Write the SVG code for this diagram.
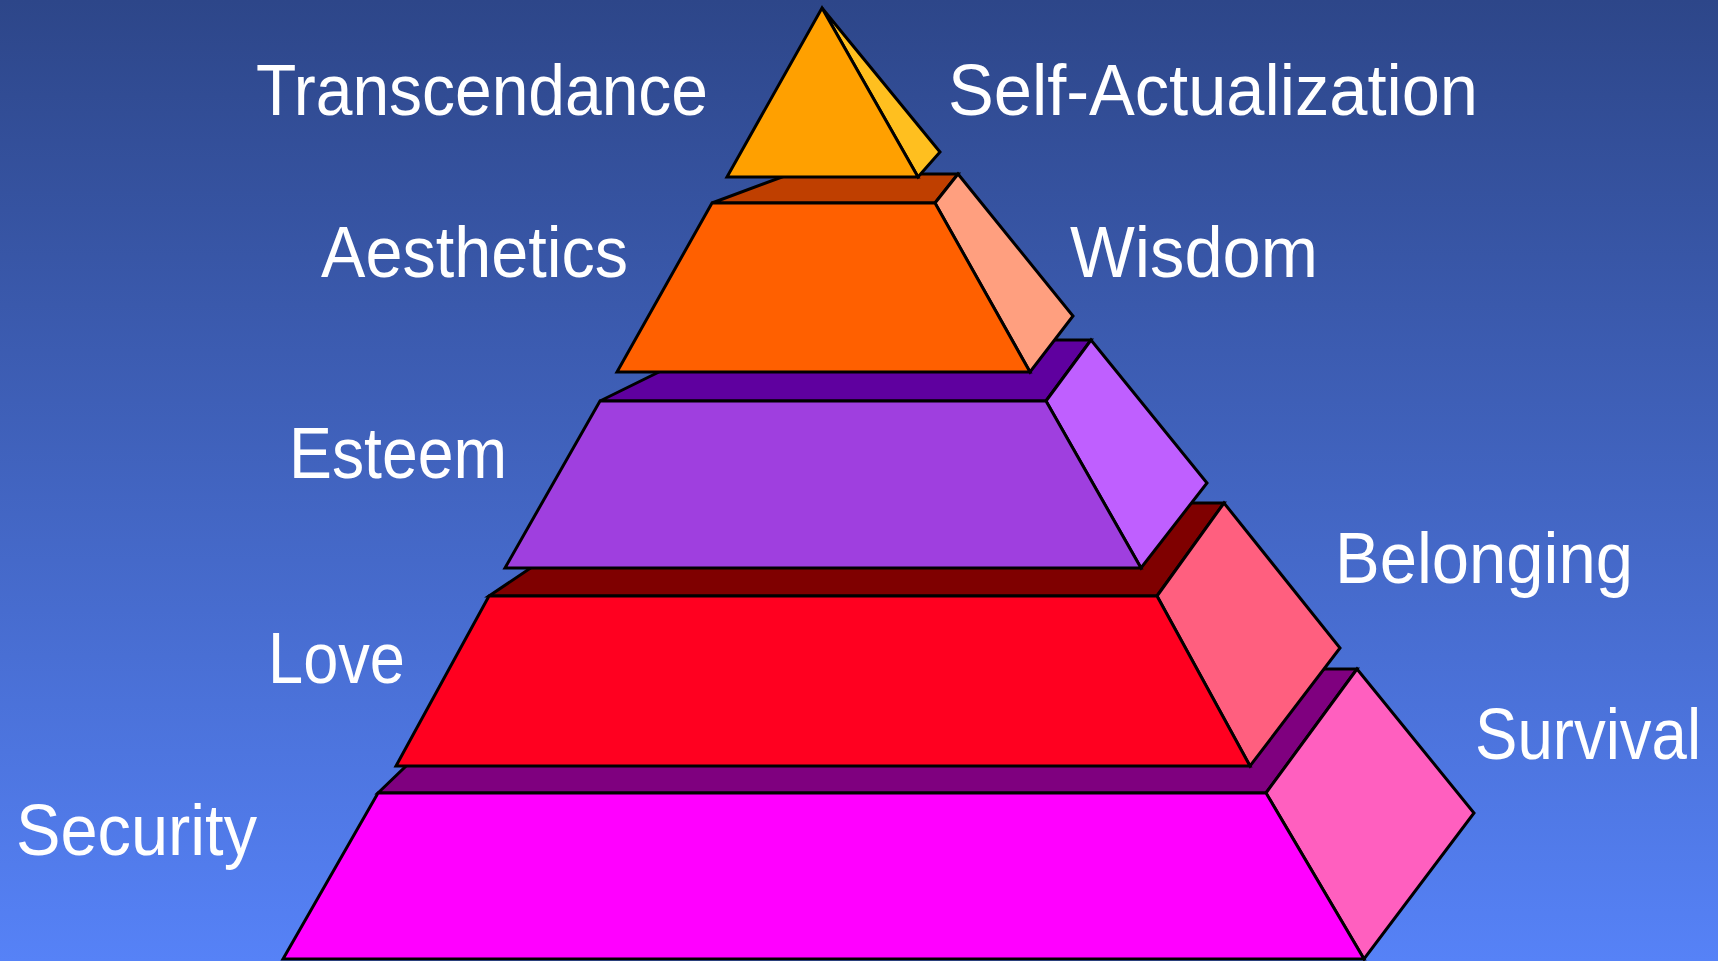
<svg xmlns="http://www.w3.org/2000/svg" width="1718" height="961" viewBox="0 0 1718 961">
<defs>
<linearGradient id="bg" x1="0" y1="0" x2="0" y2="1">
<stop offset="0" stop-color="#2D4689"/>
<stop offset="1" stop-color="#5682F7"/>
</linearGradient>
<style>
.e{stroke:#000;stroke-width:3;stroke-linejoin:miter}
.t{font-family:"Liberation Sans","Open Sans",sans-serif;font-size:72px;fill:#fff}
</style>
</defs>
<rect width="1718" height="961" fill="url(#bg)"/>
<g id="tier-security">
<polygon class="e" fill="#7F007F" points="378,793 507,669 1357,669 1266,793"/>
<polygon class="e" fill="#FF5FBF" points="1266,793 1357,669 1474,813 1364,959"/>
<polygon class="e" fill="#FF00FF" points="378,793 1266,793 1364,959 283,959"/>
</g>
<g id="tier-love">
<polygon class="e" fill="#7F0000" points="489,596 627,503 1224,503 1157,596"/>
<polygon class="e" fill="#FF5F7F" points="1157,596 1224,503 1340,648 1250,766"/>
<polygon class="e" fill="#FF0020" points="489,596 1157,596 1250,766 396,766"/>
</g>
<g id="tier-esteem">
<polygon class="e" fill="#5F009F" points="600,401 724,340 1091,340 1046,401"/>
<polygon class="e" fill="#BF5FFF" points="1046,401 1091,340 1207,483 1141,568"/>
<polygon class="e" fill="#9F3FDF" points="600,401 1046,401 1141,568 505,568"/>
</g>
<g id="tier-aesthetics">
<polygon class="e" fill="#BF3F00" points="712,203 790,174 958,174 935,203"/>
<polygon class="e" fill="#FF9F7F" points="935,203 958,174 1073,316 1030,372"/>
<polygon class="e" fill="#FF6000" points="712,203 935,203 1030,372 617,372"/>
</g>
<g id="tier-transcendance">
<polygon class="e" fill="#FFBF1F" points="822,8 940,152 918,177"/>
<polygon class="e" fill="#FFA000" points="822,8 918,177 727,177"/>
</g>
<g id="labels">
<text class="t" x="256" y="115" textLength="452" lengthAdjust="spacingAndGlyphs">Transcendance</text>
<text class="t" x="948" y="115" textLength="530" lengthAdjust="spacingAndGlyphs">Self-Actualization</text>
<text class="t" x="321" y="277" textLength="307" lengthAdjust="spacingAndGlyphs">Aesthetics</text>
<text class="t" x="1070" y="277" textLength="248" lengthAdjust="spacingAndGlyphs">Wisdom</text>
<text class="t" x="289" y="478" textLength="218" lengthAdjust="spacingAndGlyphs">Esteem</text>
<text class="t" x="1335" y="583" textLength="298" lengthAdjust="spacingAndGlyphs">Belonging</text>
<text class="t" x="268" y="683" textLength="137" lengthAdjust="spacingAndGlyphs">Love</text>
<text class="t" x="1475" y="759" textLength="226" lengthAdjust="spacingAndGlyphs">Survival</text>
<text class="t" x="16" y="855" textLength="241" lengthAdjust="spacingAndGlyphs">Security</text>
</g>
</svg>
